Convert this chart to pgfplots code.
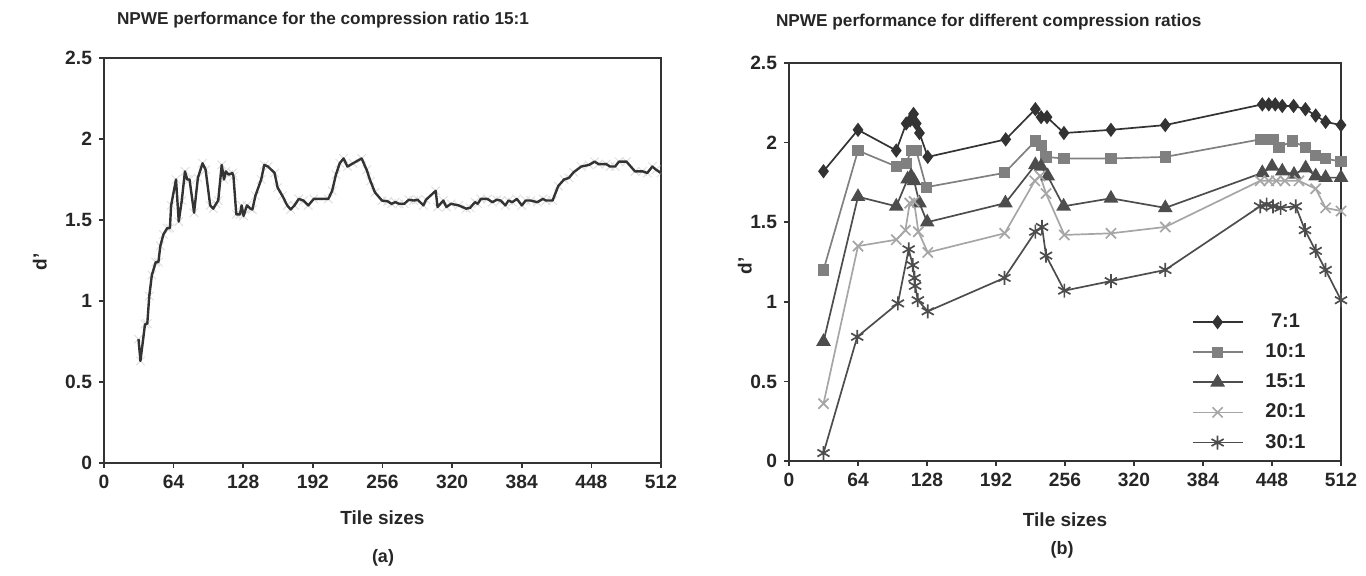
\documentclass[border=0pt]{standalone}
\usepackage{pgfplots}
\pgfplotsset{compat=1.18}
\usepackage{pgfplotstable}
\usepackage{fontspec}
\setmainfont{Liberation Sans}
\definecolor{cA}{HTML}{333333}
\definecolor{cB}{HTML}{808080}
\definecolor{cC}{HTML}{4D4D4D}
\definecolor{cD}{HTML}{A6A6A6}
\definecolor{cE}{HTML}{4D4D4D}
\definecolor{txt}{HTML}{262626}

\pgfplotstableread{
x y
31.7 0.765
33.5 0.63
37.7 0.857
39.8 0.86
41.6 1.03
44 1.16
47.6 1.24
50 1.24
51.8 1.34
54.6 1.41
58.1 1.45
60.6 1.45
61.7 1.59
66.2 1.75
68.7 1.49
71.5 1.62
74.4 1.80
76.5 1.75
78.6 1.75
82.8 1.545
86.3 1.76
90.6 1.85
93.4 1.81
97.6 1.59
100.4 1.57
103 1.60
105 1.62
108.2 1.84
110.3 1.75
112 1.80
114.5 1.78
118 1.79
119 1.77
121.6 1.535
125 1.535
126.5 1.59
128.3 1.525
131.4 1.59
134.6 1.57
136.4 1.565
139.2 1.65
144.5 1.75
147.3 1.84
150.8 1.83
156.8 1.79
159.6 1.70
163.9 1.65
168.4 1.59
171.6 1.565
175.1 1.59
179 1.63
183.3 1.62
187.8 1.59
192.8 1.63
206.2 1.63
209.7 1.68
213.2 1.78
216.7 1.85
220.2 1.88
223.8 1.83
229 1.85
236.8 1.88
241.4 1.81
244.9 1.74
249.1 1.67
255.5 1.62
260.8 1.615
264.3 1.60
267.8 1.61
271.4 1.60
276 1.60
280.2 1.625
284.7 1.62
288.3 1.625
293.6 1.59
296 1.625
304.9 1.68
306.6 1.58
311.9 1.62
314.7 1.58
319 1.60
326 1.59
333 1.57
336.5 1.575
341 1.61
343.6 1.60
346.4 1.63
352.4 1.63
357 1.61
361.1 1.625
364.7 1.62
368.9 1.59
371.8 1.62
375.3 1.61
379.5 1.63
384.1 1.59
387.6 1.62
392.2 1.62
398.2 1.61
403.5 1.63
406.3 1.62
412.3 1.62
417.6 1.71
422.9 1.75
427.4 1.76
431.7 1.795
438.7 1.83
445.8 1.84
451 1.86
454.6 1.845
461.6 1.845
465.2 1.83
469.8 1.83
473.3 1.86
480.3 1.86
488.1 1.80
495.1 1.80
499.4 1.79
504 1.83
507.5 1.81
512 1.79
}\left

\pgfplotstableread{
x y
32 1.82
64 2.08
99.5 1.95
108.7 2.12
112.4 2.14
115.5 2.18
118 2.12
121 2.06
128.7 1.91
201 2.02
228.5 2.21
233.8 2.16
239.3 2.16
255 2.06
298.6 2.08
349 2.11
439 2.24
445 2.24
451 2.24
457.5 2.23
468 2.23
479 2.21
488.5 2.17
497.7 2.13
512 2.11
}\sA

\pgfplotstableread{
x y
32 1.20
64 1.95
99.5 1.85
108.7 1.87
113.3 1.95
118 1.95
127.3 1.72
200 1.81
228.5 2.01
234 1.98
238.4 1.91
255 1.90
298.6 1.90
349 1.91
437 2.02
443 2.02
449 2.02
454.5 1.97
467 2.01
479 1.97
488.5 1.92
497.7 1.90
512 1.88
}\sB

\pgfplotstableread{
x y
32 0.75
64 1.66
99.5 1.60
110 1.77
113.3 1.79
116 1.76
121 1.62
128.2 1.50
200.7 1.62
228.5 1.86
233.8 1.85
239.9 1.79
254.7 1.60
298.6 1.65
349 1.59
439 1.81
448 1.85
457.5 1.82
468.4 1.80
479.2 1.84
488.5 1.79
497.7 1.78
512 1.78
}\sC

\pgfplotstableread{
x y
32 0.36
64 1.35
99.5 1.39
108 1.45
112 1.62
116 1.63
120 1.44
128.7 1.31
200 1.43
228 1.76
233 1.79
238.4 1.68
255.4 1.42
298.6 1.43
349 1.47
437 1.76
445 1.76
452 1.76
460 1.76
473 1.76
488.5 1.71
497.7 1.59
512 1.57
}\sD

\pgfplotstableread{
x y
32 0.05
63.3 0.78
101 0.99
111 1.33
114.8 1.23
116.4 1.15
117 1.10
119.5 1.01
128.7 0.94
199.8 1.15
228.5 1.44
234.7 1.47
238.4 1.29
255.4 1.07
298.6 1.13
349 1.20
437 1.60
443 1.61
449 1.60
456 1.59
470 1.60
478.6 1.45
488.5 1.32
497.7 1.20
512 1.01
}\sE

\pgfplotsset{
  npwe/.style={
    scale only axis,
    xmin=0, xmax=512, ymin=0, ymax=2.5,
    xtick={0,64,...,512},
    ytick={0,0.5,1,1.5,2,2.5},
    tick pos=left,
    tick align=outside,
    major tick length=2.5pt,
    tick style={line width=0.8pt, color=black!80},
    axis line style={line width=0.9pt, color=black!80},
    /pgf/number format/assume math mode=true,
    ticklabel style={font=\bfseries\fontsize{9.6}{11}\selectfont, text=txt},
    yticklabel style={/pgf/number format/fixed},
    label style={font=\bfseries\fontsize{9.5}{11}\selectfont, text=txt},
    xlabel={Tile sizes},
    ylabel={d'},
  }
}

\begin{document}
\begin{tikzpicture}[x=1pt,y=1pt]
\useasboundingbox (0,0) rectangle (683,288);

\begin{axis}[npwe, clip marker paths=true,
  at={(52pt,56.5pt)}, anchor=south west,
  width=278.5pt, height=202.5pt,
  xlabel style={at={(axis description cs:0.5,-0.136)}, anchor=center},
  ylabel style={at={(axis description cs:-0.115,0.496)}, anchor=center},
]
\addplot[only marks, mark=x, mark size=3pt, mark options={draw=black!12, line width=0.5pt}] table {\left};
\addplot[color=cA, line width=1.2pt, mark=none, line join=round] table {\left};
\end{axis}

\begin{axis}[npwe,
  at={(394.5pt,57.5pt)}, anchor=south west,
  width=276pt, height=199pt,
  xlabel style={at={(axis description cs:0.5,-0.148)}, anchor=center},
  ylabel style={at={(axis description cs:-0.08,0.49)}, anchor=center},
  legend style={draw=none, fill=none, at={(0.718,0.004)}, anchor=south west,
    font=\bfseries\fontsize{10}{11}\selectfont, text=txt, row sep=2.6pt,
    /tikz/every odd column/.style={column sep=9pt}},
  legend cell align=center,
  legend image code/.code={\draw[mark repeat=2,mark phase=2] plot coordinates {(0pt,0pt) (12.5pt,0pt) (25pt,0pt)};},
]
\addplot[color=cA, line width=0.85pt, mark=diamond*, mark size=2.9pt, mark options={solid, fill=cA}] table {\sA};
\addlegendentry{7:1}
\addplot[color=cB, line width=0.85pt, mark=square*, mark size=2.4pt, mark options={solid, fill=cB}] table {\sB};
\addlegendentry{10:1}
\addplot[color=cC, line width=0.85pt, mark=triangle*, mark size=3.4pt, mark options={solid, fill=cC}] table {\sC};
\addlegendentry{15:1}
\addplot[color=cD, line width=0.85pt, mark=x, mark size=3.6pt, mark options={solid}] table {\sD};
\addlegendentry{20:1}
\addplot[color=cE, line width=0.85pt, mark=asterisk, mark size=3.5pt, mark options={solid}] table {\sE};
\addlegendentry{30:1}
\end{axis}

\node[anchor=west, font=\bfseries\fontsize{8.6}{10}\selectfont, text=txt] at (55pt,278pt) {NPWE performance for the compression ratio 15:1};
\node[anchor=west, font=\bfseries\fontsize{8.6}{10}\selectfont, text=txt] at (384.5pt,277pt) {NPWE performance for different compression ratios};
\node[font=\bfseries\fontsize{9}{10}\selectfont, text=txt] at (191.5pt,9pt) {(a)};
\node[font=\bfseries\fontsize{9}{10}\selectfont, text=txt] at (531pt,13pt) {(b)};
\end{tikzpicture}
\end{document}
